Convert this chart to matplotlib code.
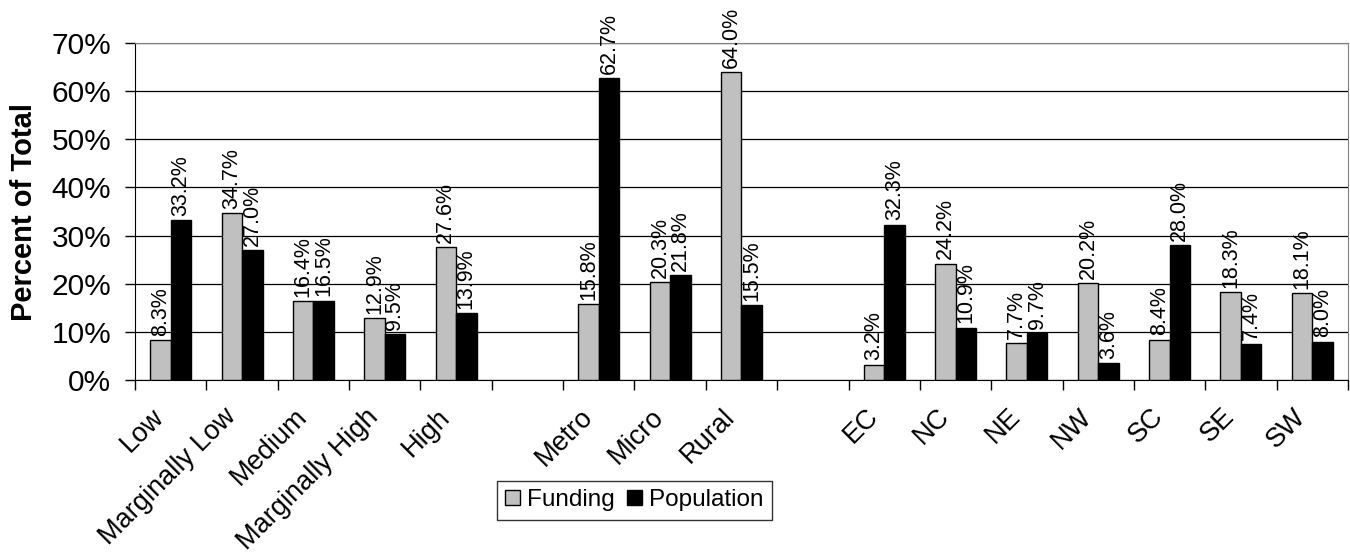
import matplotlib
matplotlib.use("Agg")
import matplotlib.pyplot as plt
from matplotlib.ticker import FixedLocator, PercentFormatter
from matplotlib.transforms import ScaledTranslation
import numpy as np

plt.rcParams['font.family'] = ['Liberation Sans', 'DejaVu Sans']

categories = ["Low", "Marginally Low", "Medium", "Marginally High", "High",
              "Metro", "Micro", "Rural",
              "EC", "NC", "NE", "NW", "SC", "SE", "SW"]
funding = [8.3, 34.7, 16.4, 12.9, 27.6,
           15.8, 20.3, 64.0,
           3.2, 24.2, 7.7, 20.2, 8.4, 18.3, 18.1]
population = [33.2, 27.0, 16.5, 9.5, 13.9,
              62.7, 21.8, 15.5,
              32.3, 10.9, 9.7, 3.6, 28.0, 7.4, 8.0]
group_sizes = [5, 3, 7]

# slot positions, leaving one empty slot between groups
positions = []
start = 0
for n in group_sizes:
    positions.extend(range(start, start + n))
    start += n + 1
positions = np.array(positions, dtype=float)
n_slots = start - 1

fig = plt.figure(figsize=(13.5, 5.6), dpi=100)
ax = fig.add_axes([0.1, 0.3214, 0.8985, 0.6018])

w = 0.287
ax.bar(positions - w / 2, funding, w, color="#C0C0C0", edgecolor="black",
       linewidth=1, label="Funding", zorder=3)
ax.bar(positions + w / 2, population, w, color="black", edgecolor="black",
       linewidth=1, label="Population", zorder=3)

for x, v in zip(positions - w / 2, funding):
    ax.annotate(f"{v:.1f}%", (x, v), xytext=(0, 3), textcoords="offset points",
                rotation=90, ha="center", va="bottom", fontsize=15.5, zorder=4)
for x, v in zip(positions + w / 2, population):
    ax.annotate(f"{v:.1f}%", (x, v), xytext=(0, 3), textcoords="offset points",
                rotation=90, ha="center", va="bottom", fontsize=15.5, zorder=4)

ax.set_xlim(-0.5, n_slots - 0.5)
ax.set_ylim(0, 70)
ax.yaxis.set_major_locator(FixedLocator(np.arange(0, 71, 10)))
ax.yaxis.set_major_formatter(PercentFormatter(decimals=0))
ax.grid(axis="y", color="black", linewidth=0.9, zorder=0)
ax.tick_params(axis="y", labelsize=21.5, length=7, width=1, pad=10)

ax.set_xticks(positions)
ax.set_xticklabels(categories, rotation=45, ha="right", va="top",
                   rotation_mode="anchor", fontsize=19.5)
ax.tick_params(axis="x", which="major", length=0, pad=17)
shift = ScaledTranslation(-14 / 72, 0, fig.dpi_scale_trans)
for lbl in ax.get_xticklabels():
    lbl.set_transform(lbl.get_transform() + shift)
ax.set_xticks(np.arange(-0.5, n_slots, 1.0), minor=True)
ax.tick_params(axis="x", which="minor", length=7, width=1)

for side in ["top", "right"]:
    ax.spines[side].set_color("#808080")
ax.spines["left"].set_color("black")
ax.spines["bottom"].set_color("black")

ax.set_ylabel("Percent of Total", fontsize=21, fontweight="bold", labelpad=10)

handles, labels = ax.get_legend_handles_labels()
leg = fig.legend(handles, labels, loc="center", bbox_to_anchor=(0.47, 0.107),
                 ncol=2, fontsize=17.5, frameon=True, fancybox=False,
                 edgecolor="black", handlelength=0.6, handleheight=0.6,
                 handletextpad=0.3, columnspacing=0.5, borderpad=0.35,
                 borderaxespad=0)
leg.get_frame().set_linewidth(1)

fig.savefig("out.png", dpi=100)
